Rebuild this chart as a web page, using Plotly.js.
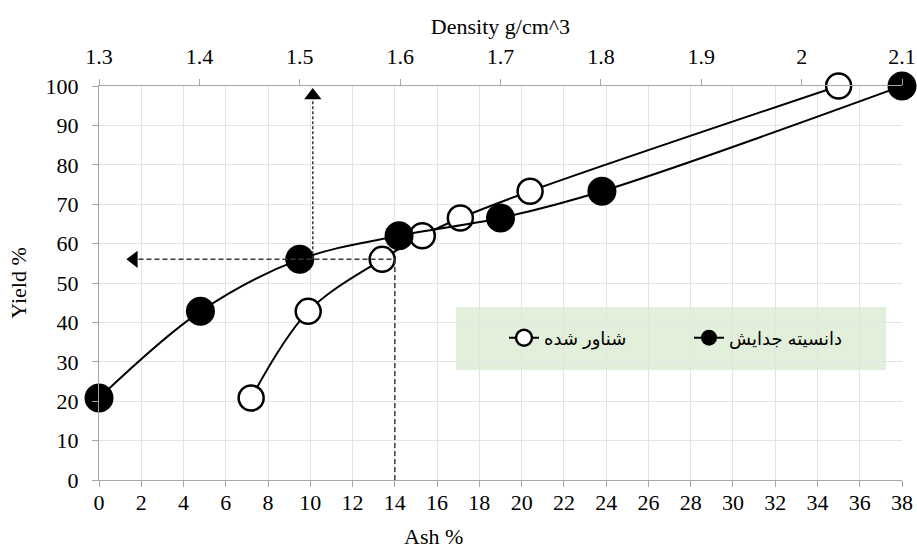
<!DOCTYPE html>
<html>
<head>
<meta charset="utf-8">
<script src="https://cdn.plot.ly/plotly-3.0.1.min.js"></script>
<style>html,body{margin:0;padding:0;background:#fff;}#chart{width:917px;height:552px;}</style>
</head>
<body>
<div id="chart"></div>
<script>
// Series: separation density (filled) and floated (open)
const sepName = "دانسیته جدایش";
const sepAsh = [0, 4.8, 9.5, 14.2, 19.0, 23.8, 38.0];
const sepYield = [20.8, 42.8, 56.0, 62.0, 66.5, 73.3, 100];

const floatName = "شناور شده";
const floatAsh = [7.2, 9.9, 13.4, 15.3, 17.1, 20.4, 35.0];
const floatYield = [20.8, 42.8, 56.0, 62.0, 66.5, 73.3, 100];

// Reading guide (dashed arrows)
const guideAsh = 14;          // ash value read on bottom axis
const guideYield = 56;        // yield read on left axis
const guideAshLeftEnd = 1.65; // left arrow head position (ash)
const guideDensity = 1.513;   // density read on top axis
const guideTopYield = 97.6;   // top arrow head position (yield)

const xTicks = [0,2,4,6,8,10,12,14,16,18,20,22,24,26,28,30,32,34,36,38];
const densTicks = [1.3,1.4,1.5,1.6,1.7,1.8,1.9,2.0,2.1];
const yTicks = [0,10,20,30,40,50,60,70,80,90,100];

const serif = "Liberation Serif, Times New Roman, serif";
const axisGrey = "#a6a6a6";
const gridGrey = "#e4e4e4";
const dashCol = "#3a3a3a";
const fs = 22;

const traces = [
  {
    x: floatAsh, y: floatYield, name: floatName, type: "scatter", mode: "lines+markers",
    line: {color: "#000", width: 2, shape: "spline", smoothing: 1},
    marker: {size: 25, color: "#fff", line: {color: "#000", width: 2.5}},
    cliponaxis: false, xaxis: "x", yaxis: "y"
  },
  {
    x: sepAsh, y: sepYield, name: sepName, type: "scatter", mode: "lines+markers",
    line: {color: "#000", width: 2, shape: "spline", smoothing: 1},
    marker: {size: 29, color: "#000", line: {color: "#000", width: 0}},
    cliponaxis: false, xaxis: "x", yaxis: "y"
  },
  {
    x: [guideAsh, guideAsh, guideAshLeftEnd], y: [0, guideYield, guideYield],
    type: "scatter", mode: "lines", showlegend: false,
    line: {color: dashCol, width: 1.5, dash: "5px,3px"},
    xaxis: "x", yaxis: "y"
  },
  {
    x: [guideAshLeftEnd], y: [guideYield], type: "scatter", mode: "markers", showlegend: false,
    marker: {symbol: "triangle-left", size: 15, color: "#000"},
    xaxis: "x", yaxis: "y"
  },
  {
    x: [guideDensity, guideDensity], y: [guideYield, guideTopYield],
    type: "scatter", mode: "lines", showlegend: false,
    line: {color: dashCol, width: 1.5, dash: "3px,2px"},
    xaxis: "x2", yaxis: "y"
  },
  {
    x: [guideDensity], y: [guideTopYield], type: "scatter", mode: "markers", showlegend: false,
    marker: {symbol: "triangle-up", size: 15, color: "#000"},
    cliponaxis: false, xaxis: "x2", yaxis: "y"
  }
];

const axisCommon = {
  showline: true, linecolor: axisGrey, linewidth: 1,
  ticks: "outside", ticklen: 6, tickcolor: axisGrey, tickwidth: 1,
  zeroline: false, tickfont: {family: serif, size: fs, color: "#000"}
};

const layout = {
  width: 917, height: 552,
  margin: {l: 99, r: 15, t: 86, b: 72, pad: 0},
  paper_bgcolor: "#fff", plot_bgcolor: "#fff",
  showlegend: true,
  hovermode: false,
  xaxis: Object.assign({}, axisCommon, {
    range: [0, 38], tickvals: xTicks, ticktext: xTicks.map(String),
    showgrid: true, gridcolor: gridGrey, gridwidth: 1, ticklabelstandoff: -3
  }),
  xaxis2: Object.assign({}, axisCommon, {
    overlaying: "x", side: "top", anchor: "y",
    range: [1.3, 2.1], tickvals: densTicks, ticktext: densTicks.map(v => String(+v.toFixed(1))),
    showgrid: false, ticklabelstandoff: 6,
    title: {text: "Density g/cm^3", font: {family: serif, size: fs, color: "#000"}, standoff: 3}
  }),
  yaxis: Object.assign({}, axisCommon, {
    range: [0, 100], tickvals: yTicks, ticktext: yTicks.map(String),
    showgrid: true, gridcolor: gridGrey, gridwidth: 1, ticklabelstandoff: 9,
    title: {text: "Yield %", font: {family: serif, size: fs, color: "#000"}, standoff: 12}
  }),
  annotations: [
    {text: "Ash %", xref: "paper", yref: "paper", x: (433 - 99) / 803, y: (480 - 536) / 394,
     xanchor: "center", yanchor: "middle", showarrow: false,
     font: {family: serif, size: fs, color: "#000"}}
  ],
  shapes: [
    {type: "rect", xref: "paper", yref: "paper",
     x0: (456 - 99) / 803, x1: (886 - 99) / 803,
     y0: (480 - 370) / 394, y1: (480 - 307) / 394,
     fillcolor: "#e2efda", line: {width: 0}, layer: "below"}
  ],
  legend: {
    orientation: "h", x: (504 - 99) / 803, xanchor: "left",
    y: (480 - 338) / 394, yanchor: "middle",
    bgcolor: "rgba(0,0,0,0)", borderwidth: 0,
    font: {family: "Liberation Sans, DejaVu Sans, sans-serif", size: 18, color: "#000"},
    traceorder: "normal", itemsizing: "trace", entrywidth: 140
  }
};

Plotly.newPlot("chart", traces, layout, {staticPlot: true, displayModeBar: false});
</script>
</body>
</html>
